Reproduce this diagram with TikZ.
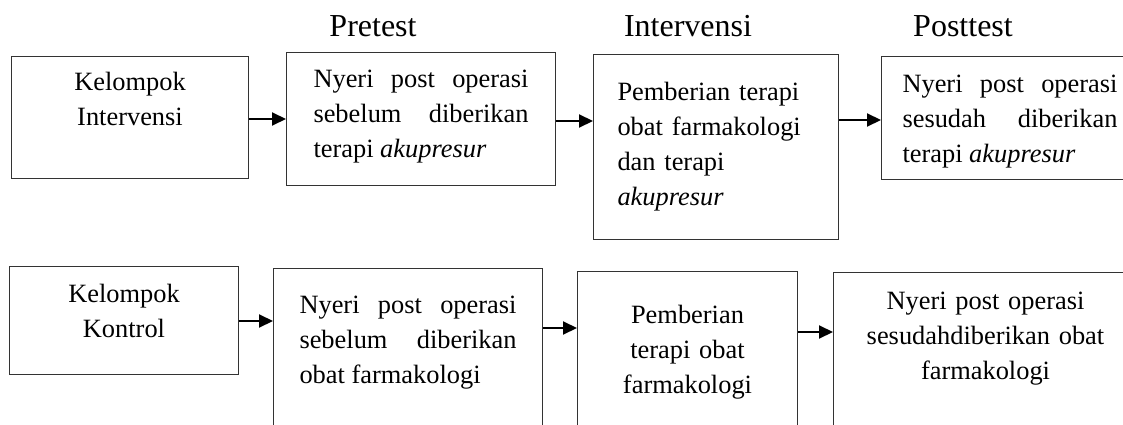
\documentclass[tikz,border=0pt]{standalone}
\usepackage{fontspec}
\setmainfont{Liberation Serif}
\usetikzlibrary{arrows.meta}

\begin{document}
\begin{tikzpicture}[x=1pt,y=-1pt,
  box/.style={draw=black!80, line width=1pt, anchor=north west, inner ysep=0pt,
    font=\fontsize{26.4}{35}\selectfont},
  head/.style={anchor=base, inner sep=0pt, font=\fontsize{32}{38}\selectfont},
  arr/.style={line width=2pt, -{Triangle[length=14pt,width=13pt]}}]
\useasboundingbox (0,0) rectangle (1123,425);
\clip (0,0) rectangle (1123,425);
%
\node[head] (hpre) at (373,37) {Pretest};
\node[head] (hint) at (688,37) {Intervensi};
\node[head] (hpost) at (963,37) {Posttest};
%
\node[box, align=center, inner xsep=0pt, text width=237pt, text height=34pt, text depth=88pt]
  (kiv) at (11,56) {Kelompok\\Intervensi};
\node[box, align=justify, inner xsep=27pt, text width=215pt, text height=35pt, text depth=98pt]
  (prei) at (286,52) {Nyeri post operasi\linebreak sebelum diberikan\linebreak terapi \textit{akupresur}};
\node[box, align=left, inner xsep=24pt, text width=197pt, text height=46pt, text depth=139pt]
  (inti) at (593,54) {Pemberian terapi\\obat farmakologi\\dan terapi\\\textit{akupresur}};
\node[box, align=justify, inner xsep=21pt, text width=215pt, text height=36pt, text depth=87pt]
  (posti) at (881,56) {Nyeri post operasi\linebreak sesudah diberikan\linebreak terapi \textit{akupresur}};
%
\node[box, align=center, inner xsep=0pt, text width=229pt, text height=36pt, text depth=72pt]
  (kk) at (9,266) {Kelompok\\Kontrol};
\node[box, align=justify, inner xsep=26pt, text width=217pt, text height=45pt, text depth=132pt]
  (prek) at (273,268) {Nyeri post operasi\linebreak sebelum diberikan\linebreak obat farmakologi};
\node[box, align=center, inner xsep=0pt, text width=220pt, text height=52pt, text depth=122pt]
  (intk) at (577,271) {Pemberian\\terapi obat\\farmakologi};
\node[box, align=center, inner xsep=0pt, text width=304pt, text height=37pt, text depth=136pt]
  (postk) at (833,272) {Nyeri post operasi\\sesudahdiberikan obat\\farmakologi};
%
\draw[arr] (kiv.east |- 0,119) -- (prei.west |- 0,119);
\draw[arr] (prei.east |- 0,121) -- (inti.west |- 0,121);
\draw[arr] (inti.east |- 0,120) -- (posti.west |- 0,120);
%
\draw[arr] (kk.east |- 0,321) -- (prek.west |- 0,321);
\draw[arr] (prek.east |- 0,328) -- (intk.west |- 0,328);
\draw[arr] (intk.east |- 0,332) -- (postk.west |- 0,332);
\end{tikzpicture}
\end{document}
